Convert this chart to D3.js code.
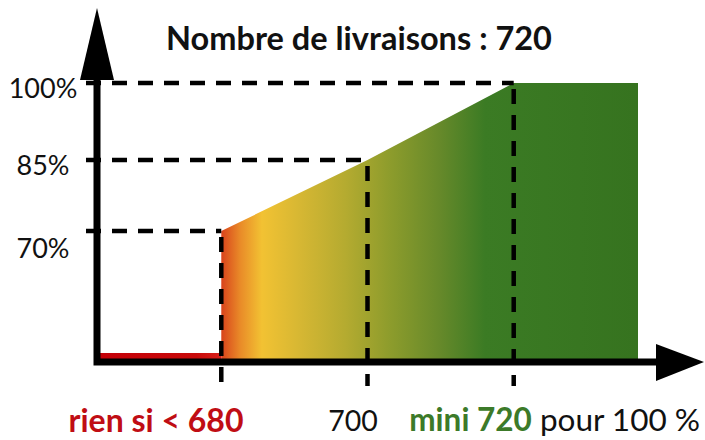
<!DOCTYPE html>
<html lang="fr">
<head>
<meta charset="UTF-8">
<script src="https://cdn.jsdelivr.net/npm/d3@7/dist/d3.min.js"></script>
<style>
    body { margin: 0; background: #fff; }
    svg { display: block; font-family: Lato, "Open Sans", sans-serif; }
</style>
</head>
<body>
<svg id="chart" width="705" height="440"></svg>
<script>
    // seuils de livraisons et taux correspondants
    const seuils = [680, 700, 720];
    const taux = [70, 85, 100];
    const tauxLabels = ["70%", "85%", "100%"];
    // profil de la prime : x = livraisons, y = %
    const profilX = [680, 680, 700, 720, 737];
    const profilY = [0, 70, 85, 100, 100];
    const rienX = [663, 680];   // rien si < 680
    const rienY = [0, 0];
    const xDomain = [663, 737];

    const width = 705, height = 440;
    const axisX = 97, axisY = 362;

    const x = d3.scaleLinear().domain(xDomain).range([axisX, 638]);
    // schéma : l'échelle n'est pas linéaire depuis 0
    const y = d3.scaleLinear().domain([0, 70, 85, 100]).range([356, 231, 160, 83]);

    const svg = d3.select("#chart");

    // dégradé rouge -> jaune -> vert
    const grad = svg.append("defs").append("linearGradient")
        .attr("id", "fillGrad")
        .attr("gradientUnits", "userSpaceOnUse")
        .attr("x1", x(680)).attr("x2", x(737)).attr("y1", 0).attr("y2", 0);
    const stops = [
        [221, "#d8431c"], [240, "#e98a28"], [262, "#f2c233"], [300, "#d6b733"],
        [345, "#b5ab30"], [390, "#8d9c2c"], [440, "#66892a"], [485, "#3b7b24"],
        [638, "#36731f"]
    ];
    grad.selectAll("stop").data(stops).join("stop")
        .attr("offset", d => (d[0] - x(680)) / (x(737) - x(680)))
        .attr("stop-color", d => d[1]);

    const redGrad = svg.select("defs").append("linearGradient").attr("id", "redGrad");
    redGrad.append("stop").attr("offset", 0).attr("stop-color", "#c40008");
    redGrad.append("stop").attr("offset", 0.8).attr("stop-color", "#c80a0a");
    redGrad.append("stop").attr("offset", 1).attr("stop-color", "#d8201a");

    // zone remplie
    const area = d3.area()
        .x(d => x(d[0]))
        .y0(axisY)
        .y1(d => y(d[1]));
    svg.append("path")
        .datum(d3.zip(profilX, profilY))
        .attr("fill", "url(#fillGrad)")
        .attr("d", area);

    // bande rouge "rien"
    svg.append("rect")
        .attr("x", x(rienX[0]))
        .attr("y", y(rienY[0]) - 3)
        .attr("width", x(rienX[1]) - x(rienX[0]))
        .attr("height", 6)
        .attr("fill", "url(#redGrad)");

    // pointillés
    const dash = svg.append("g")
        .attr("stroke", "#000")
        .attr("stroke-width", 4.5)
        .attr("stroke-dasharray", "15,11");
    seuils.forEach((s, i) => {
        dash.append("line")
            .attr("x1", 86).attr("x2", x(s))
            .attr("y1", y(taux[i])).attr("y2", y(taux[i]));
        dash.append("line")
            .attr("x1", x(s)).attr("x2", x(s))
            .attr("y1", y(taux[i]) + 2).attr("y2", 386)
            .attr("stroke-dashoffset", -4);
    });

    // axes avec flèches
    svg.append("path")
        .attr("fill", "none")
        .attr("stroke", "#000")
        .attr("stroke-width", 7)
        .attr("d", `M${axisX},60 V${axisY} H670`);
    svg.append("path")
        .attr("fill", "#000")
        .attr("d", `M${axisX},8 L${axisX + 17},80 L${axisX - 17},80 Z`);
    svg.append("path")
        .attr("fill", "#000")
        .attr("d", `M704,${axisY} L656,${axisY + 19} L656,${axisY - 18} Z`);

    // étiquettes de l'axe y (70% un peu plus bas que sa ligne)
    svg.append("g")
        .selectAll("text")
        .data(taux)
        .join("text")
        .attr("x", 43)
        .attr("y", d => y(d) + (d === 70 ? 27 : 15))
        .attr("text-anchor", "middle")
        .attr("font-size", 27)
        .attr("fill", "#111")
        .text((d, i) => tauxLabels[i]);

    // titre
    svg.append("text")
        .attr("x", 359)
        .attr("y", 50)
        .attr("text-anchor", "middle")
        .attr("font-size", 32.5)
        .attr("font-weight", "bold")
        .attr("fill", "#111")
        .text("Nombre de livraisons : 720");

    // légendes du bas
    svg.append("text")
        .attr("x", 156)
        .attr("y", 432)
        .attr("text-anchor", "middle")
        .attr("font-size", 32)
        .attr("font-weight", "bold")
        .attr("fill", "#c00d14")
        .text("rien si < " + seuils[0]);

    svg.append("text")
        .attr("x", 353)
        .attr("y", 431)
        .attr("text-anchor", "middle")
        .attr("font-size", 28.5)
        .attr("fill", "#111")
        .text(seuils[1]);

    const last = svg.append("text")
        .attr("x", 700)
        .attr("y", 431)
        .attr("text-anchor", "end")
        .attr("font-size", 31.5)
        .attr("fill", "#111");
    last.append("tspan")
        .attr("font-weight", "bold")
        .attr("fill", "#3c7a29")
        .text("mini " + seuils[2]);
    last.append("tspan").text(" pour 100 %");
</script>
</body>
</html>
